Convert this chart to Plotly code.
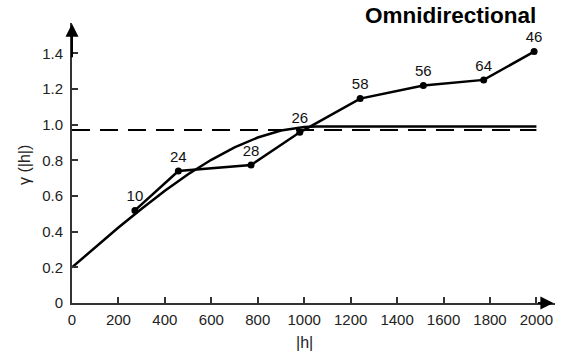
import plotly.graph_objects as go

# Experimental variogram points (lag distance, semivariance, number of pairs)
lag_h = [271, 458, 771, 981, 1241, 1513, 1773, 1990]
gamma_exp = [0.519, 0.740, 0.774, 0.957, 1.146, 1.219, 1.251, 1.410]
pair_counts = ["10", "24", "28", "26", "58", "56", "64", "46"]

# Fitted model curve
model_h = [0, 100, 200, 300, 400, 500, 600, 700, 800, 900, 1000, 1050, 2000]
model_gamma = [0.200, 0.313, 0.423, 0.529, 0.630, 0.722, 0.803, 0.873, 0.928, 0.967, 0.987, 0.990, 0.990]

# Sample variance (dashed line)
variance_h = [0, 2000]
variance_gamma = [0.970, 0.970]

x_ticks = [0, 200, 400, 600, 800, 1000, 1200, 1400, 1600, 1800, 2000]
y_ticks = [0, 0.2, 0.4, 0.6, 0.8, 1.0, 1.2, 1.4]
y_tick_text = ["0", "0.2", "0.4", "0.6", "0.8", "1.0", "1.2", "1.4"]

X_MAX = 2080
Y_MAX = 1.57
AXIS_COLOR = "#333333"
FONT = "Liberation Sans, Arial, sans-serif"

fig = go.Figure()
fig.add_trace(go.Scatter(x=variance_h, y=variance_gamma, mode="lines",
                         line=dict(color="black", width=2, dash="18px,10px"),
                         hoverinfo="skip", showlegend=False))
fig.add_trace(go.Scatter(x=model_h, y=model_gamma, mode="lines",
                         line=dict(color="black", width=2.5),
                         hoverinfo="skip", showlegend=False))
fig.add_trace(go.Scatter(x=lag_h, y=gamma_exp, mode="lines+markers+text",
                         line=dict(color="black", width=2.5),
                         marker=dict(color="black", size=7),
                         text=pair_counts, textposition="top center",
                         textfont=dict(size=15, color="#111111", family=FONT),
                         showlegend=False))

# arrowheads at axis ends
fig.add_annotation(x=X_MAX - 7, y=0, ax=X_MAX - 80, ay=0, xref="x", yref="y",
                   axref="x", ayref="y", showarrow=True, arrowhead=2,
                   arrowsize=1.3, arrowwidth=2, arrowcolor="black", text="")
fig.add_annotation(x=0, y=Y_MAX - 0.004, ax=0, ay=Y_MAX - 0.2, xref="x", yref="y",
                   axref="x", ayref="y", showarrow=True, arrowhead=2,
                   arrowsize=1.3, arrowwidth=2, arrowcolor="black", text="")

fig.add_annotation(text="<b>Omnidirectional</b>", xref="paper", yref="paper",
                   x=0.964, y=1.0, xanchor="right", yanchor="middle", yshift=8,
                   showarrow=False, font=dict(size=22.5, color="black", family=FONT))

# axis titles
fig.add_annotation(text="|h|", xref="paper", yref="paper", x=0.5, y=0,
                   xanchor="center", yanchor="middle", yshift=-39, xshift=-9,
                   showarrow=False, font=dict(size=16, color="#222222", family=FONT))
fig.add_annotation(text="γ (|h|)", xref="paper", yref="paper", x=0, y=0.5,
                   xanchor="center", yanchor="middle", xshift=-48, yshift=-2,
                   textangle=-90, showarrow=False,
                   font=dict(size=16, color="#222222", family=FONT))

fig.update_layout(
    width=576, height=356,
    margin=dict(l=72, r=21, t=23, b=53),
    paper_bgcolor="white", plot_bgcolor="white",
    font=dict(family=FONT, size=15, color="#222222"),
    xaxis=dict(range=[0, X_MAX], tickvals=x_ticks, showgrid=False, zeroline=False,
               showline=True, linecolor=AXIS_COLOR, linewidth=2, automargin=False,
               ticks="inside", ticklen=6, tickwidth=1.5, tickcolor=AXIS_COLOR,
               ticklabelstandoff=2),
    yaxis=dict(range=[0, Y_MAX], tickvals=y_ticks, ticktext=y_tick_text, showgrid=False,
               zeroline=False, showline=True, linecolor=AXIS_COLOR, linewidth=2,
               automargin=False,
               ticks="inside", ticklen=6, tickwidth=1.5, tickcolor=AXIS_COLOR,
               ticklabelstandoff=4),
)

fig.write_html("out.html", config={"displayModeBar": False},
               post_script="document.body.style.margin='0';document.body.style.overflow='hidden';")
